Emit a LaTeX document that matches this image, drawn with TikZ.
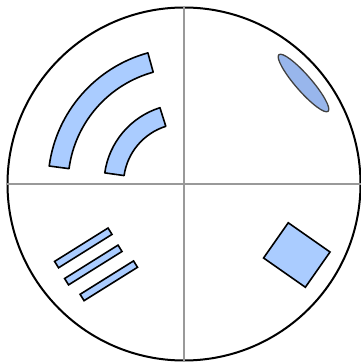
\documentclass[tikz,border=0pt]{standalone}
\usepackage{tikz}
\usetikzlibrary{shapes.geometric}
\definecolor{shapefill}{HTML}{AACCFF}
\definecolor{lensfill}{HTML}{98B6EC}
\definecolor{axisgray}{HTML}{999999}

\begin{document}
\begin{tikzpicture}[x=1pt, y=1pt,
  band/.style={draw, line width=1.6pt, fill=shapefill, line join=round},
  bar/.style={draw, line width=1.6pt, fill=shapefill, rectangle, inner sep=0pt, minimum width=63pt, minimum height=7.5pt, rotate=32},
  axis/.style={axisgray, line width=1.3pt}]
  \useasboundingbox (0,0) rectangle (361,362);
  \node[circle, draw, line width=2pt, inner sep=0pt, minimum size=353pt] (disc) at (184,178) {};
  \draw[axis] (disc.west) -- (disc.east);
  \draw[axis] (disc.north) -- (disc.south);
  % two arcs, top left
  \draw[band] ([shift={(105.4:136)}]disc.center) arc[start angle=105.4, end angle=172.4, radius=136]
    -- ([shift={(172.4:116)}]disc.center) arc[start angle=172.4, end angle=105.4, radius=116] -- cycle;
  \draw[band] ([shift={(107.5:80)}]disc.center) arc[start angle=107.5, end angle=172, radius=80]
    -- ([shift={(172:60.5)}]disc.center) arc[start angle=172, end angle=107.5, radius=60.5] -- cycle;
  % lens, top right
  \node[ellipse, draw=black!75, line width=1.3pt, fill=lensfill, inner sep=0pt, minimum width=75pt, minimum height=16pt, rotate=-49] (lens) at (303.5,279) {};
  % three bars, bottom left
  \node[bar] (bar1) at (83.3,114.1) {};
  \node[bar] (bar2) at (93.3,97) {};
  \node[bar] (bar3) at (108.8,81.2) {};
  % plate, bottom right
  \node[draw, line width=1.6pt, fill=shapefill, rectangle, inner sep=0pt, minimum width=51pt, minimum height=43pt, rotate=-35] (plate) at (296.8,107) {};
\end{tikzpicture}
\end{document}
